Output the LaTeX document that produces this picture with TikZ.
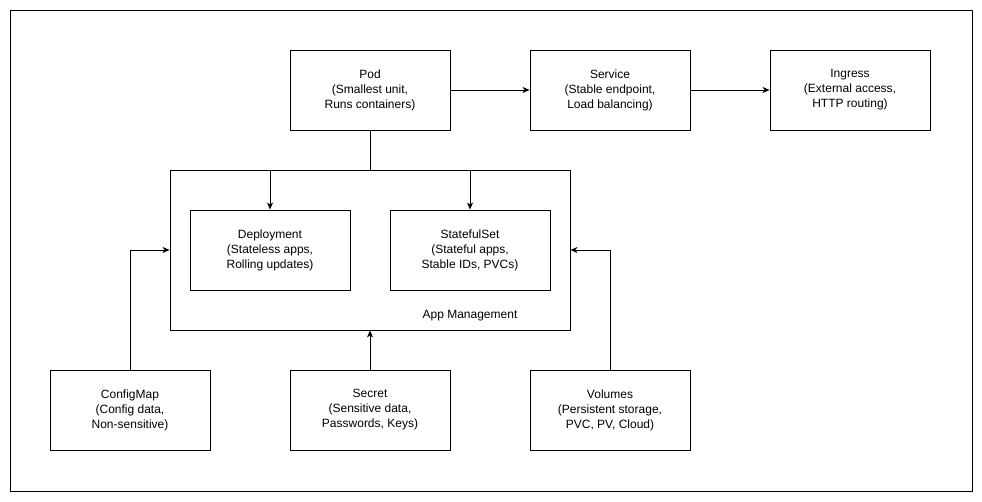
\documentclass[tikz,border=0pt]{standalone}
\usepackage{fontspec}
\setmainfont{Liberation Sans}
\usepackage{tikz}
\usetikzlibrary{arrows.meta}
\tikzset{>={Stealth[width=6pt,length=7pt,inset=2pt]}}
\tikzset{
  box/.style={draw=black, line width=0.9pt, minimum width=160pt, minimum height=80pt, inner sep=0pt, align=center, font=\fontsize{12}{15}\selectfont},
  lbl/.style={font=\fontsize{12}{15}\selectfont}
}

\begin{document}
\begin{tikzpicture}[x=1pt, y=-1pt, line width=0.9pt]
    \useasboundingbox (0,0) rectangle (982,502);
    \draw (10,10) rectangle (972,491);
    \node[box] (Pod) at (370,90) {Pod\\(Smallest unit,\\Runs containers)};
    \node[box] (Svc) at (610,90) {Service\\(Stable endpoint,\\Load balancing)};
    \node[box] (Ing) at (850,90) {Ingress\\(External access,\\HTTP routing)};
    \node[box, minimum width=400pt, minimum height=160pt] (App) at (370,250) {};
    \node[lbl] (AppLabel) at (470,316) {App Management};
    \node[box] (Dep) at (270,250) {Deployment\\(Stateless apps,\\Rolling updates)};
    \node[box] (Sts) at (470,250) {StatefulSet\\(Stateful apps,\\Stable IDs, PVCs)};
    \node[box] (CM) at (130,410) {ConfigMap\\(Config data,\\Non-sensitive)};
    \node[box] (Sec) at (370,410) {Secret\\(Sensitive data,\\Passwords, Keys)};
    \node[box] (Vol) at (610,410) {Volumes\\(Persistent storage,\\PVC, PV, Cloud)};
    \draw[->] (Pod) -- (Svc);
    \draw[->] (Svc) -- (Ing);
    \draw[->] (Pod.south) -- ++(0,40) -| (Dep.north);
    \draw[->] (Pod.south) -- ++(0,40) -| (Sts.north);
    \draw[->] (CM.north) |- (App.west);
    \draw[->] (Sec.north) -- (App.south);
    \draw[->] (Vol.north) |- (App.east);
  \end{tikzpicture}
\end{document}
